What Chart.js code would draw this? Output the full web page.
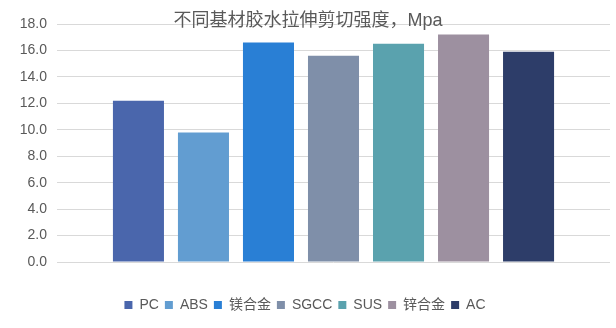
<!DOCTYPE html>
<html>
<head>
<meta charset="utf-8">
<script src="https://cdn.jsdelivr.net/npm/chart.js@4.4.1/dist/chart.umd.min.js"></script>
<style>
  html, body { margin: 0; padding: 0; background: #ffffff; }
  #wrap { width: 616px; height: 328px; position: relative; }
</style>
</head>
<body>
<div id="wrap"><canvas id="c" width="616" height="328"></canvas></div>
<script>
const chartTitle = '不同基材胶水拉伸剪切强度，Mpa';
const categories = [''];
const seriesNames = ['PC', 'ABS', '镁合金', 'SGCC', 'SUS', '锌合金', 'AC'];
const seriesValues = [12.2, 9.8, 16.6, 15.6, 16.5, 17.2, 15.9];
const seriesColors = ['#4a66ac', '#629dd1', '#297fd5', '#7f8fa9', '#5aa2ae', '#9d90a0', '#2d3d69'];
const yTicks = { min: 0, max: 18, step: 2 };

const FONT = '"Liberation Sans", Arial, "Noto Sans CJK SC", sans-serif';

const titlePlugin = {
  id: 'overlayTitle',
  afterDraw(chart) {
    const ctx = chart.ctx;
    ctx.save();
    ctx.font = '18px "Liberation Sans", "Noto Sans CJK SC", sans-serif';
    ctx.fillStyle = '#595959';
    ctx.textAlign = 'center';
    ctx.textBaseline = 'middle';
    ctx.fillText(chartTitle, chart.width / 2, 21);
    ctx.restore();
  }
};

const datasets = seriesNames.map((name, i) => ({
  label: name,
  data: [seriesValues[i]],
  backgroundColor: seriesColors[i],
  borderWidth: 0,
  categoryPercentage: 0.823,
  barPercentage: 0.785
}));

new Chart(document.getElementById('c'), {
  type: 'bar',
  data: { labels: categories, datasets },
  options: {
    responsive: false,
    animation: false,
    layout: { padding: { left: 0, right: 6, top: 24, bottom: 6 } },
    plugins: {
      title: { display: false },
      tooltip: { enabled: false },
      legend: {
        position: 'bottom',
        labels: {
          boxWidth: 8,
          boxHeight: 8,
          padding: 6,
          color: '#595959',
          font: { family: FONT, size: 14 }
        }
      }
    },
    scales: {
      x: {
        grid: { display: false },
        border: { display: false },
        ticks: { display: false },
        afterFit(scale) { scale.height = 30; }
      },
      y: {
        min: yTicks.min,
        max: yTicks.max,
        ticks: {
          stepSize: yTicks.step,
          padding: 10,
          color: '#595959',
          font: { family: FONT, size: 14 },
          callback: v => Number(v).toFixed(1)
        },
        grid: { color: '#d9d9d9', drawTicks: false, lineWidth: 1 },
        border: { display: false },
        afterFit(scale) { scale.width = 57; }
      }
    }
  },
  plugins: [titlePlugin]
});
</script>
</body>
</html>
